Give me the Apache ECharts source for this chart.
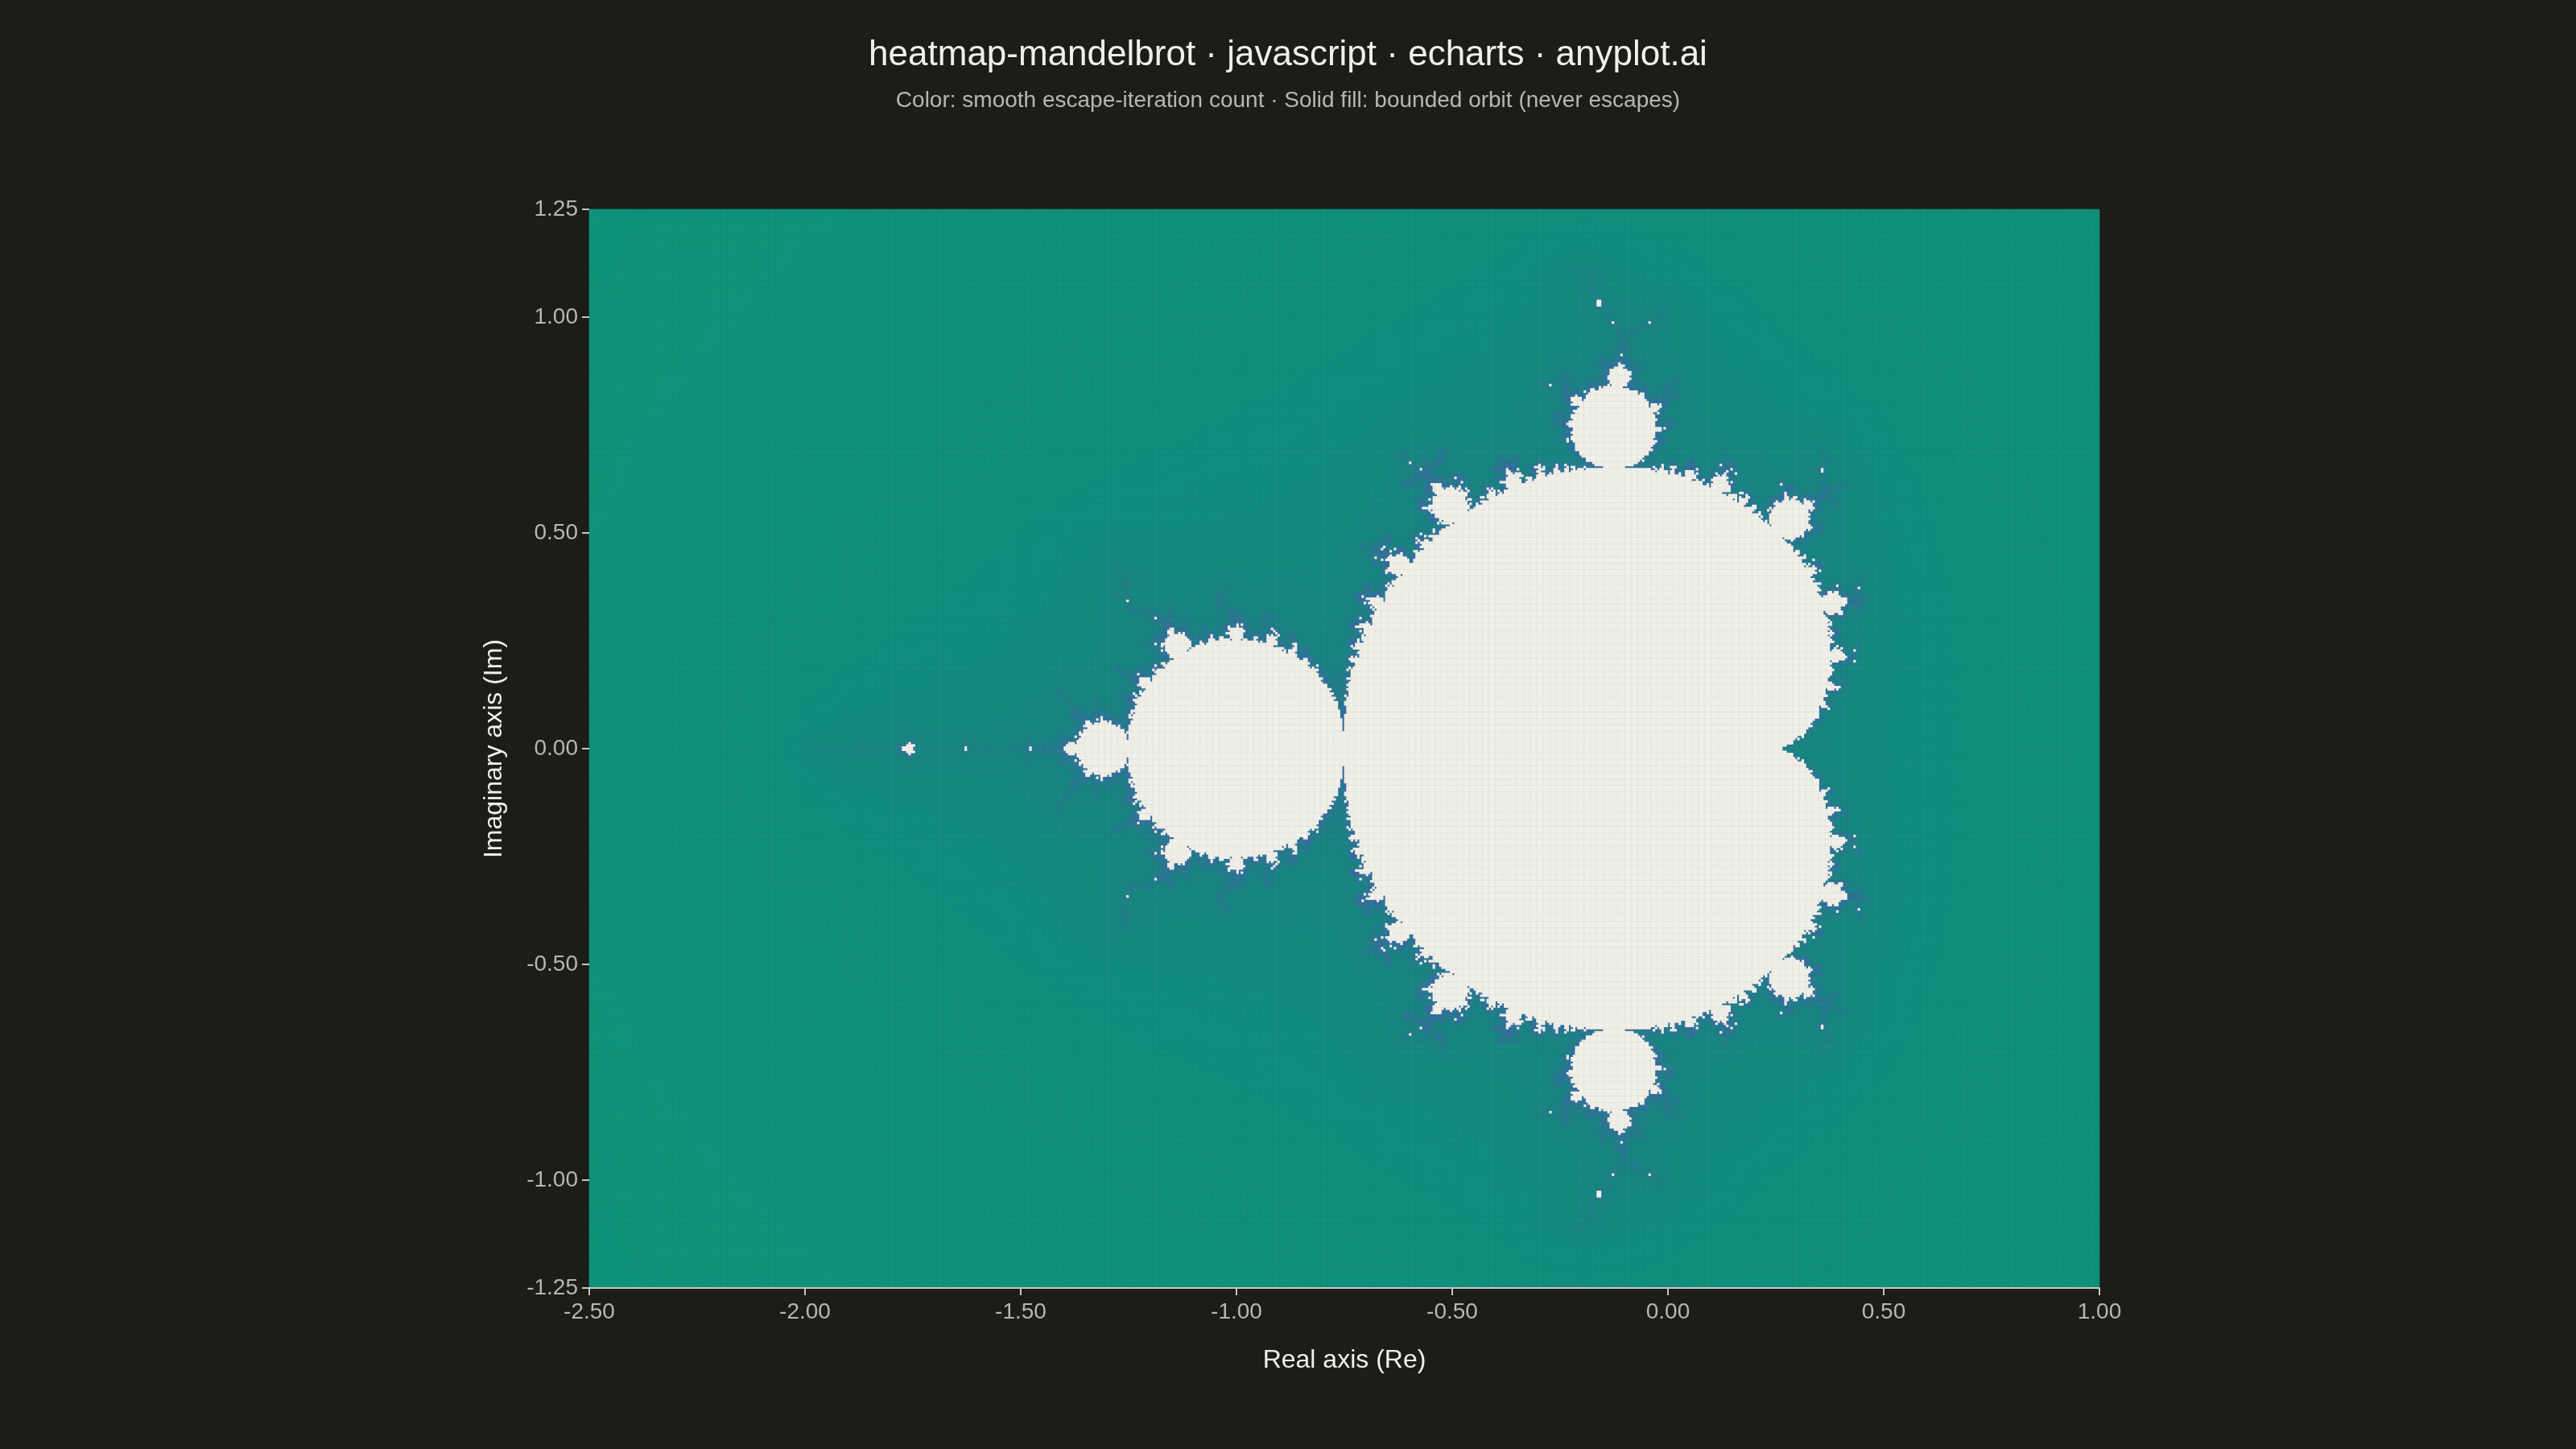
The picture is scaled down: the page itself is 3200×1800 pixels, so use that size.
<!DOCTYPE html>
<html>
<head>
<meta charset="utf-8">
<script src="https://cdn.jsdelivr.net/npm/echarts@6/dist/echarts.min.js"></script>
<style>
html,body{margin:0;padding:0;background:#1C1C19;}
#chart{width:3200px;height:1800px;}
</style>
</head>
<body>
<div id="chart"></div>
<script>
// ---- chart parameters (the Mandelbrot definition) ----
const reRange = [-2.5, 1.0];          // real axis extent
const imRange = [-1.25, 1.25];        // imaginary axis extent
const gridCols = 700;                 // samples along Re
const gridRows = 500;                 // samples along Im
const maxIter = 100;                  // iteration cap
const escapeRadius = 2;
const xTickValues = [-2.5, -2.0, -1.5, -1.0, -0.5, 0.0, 0.5, 1.0];
const yTickValues = [-1.25, -1.0, -0.5, 0.0, 0.5, 1.0, 1.25];
const colorStops = ['#089C77', '#0D967A', '#128D7E', '#1A8583', '#2E7596', '#3E67A8'];
const titleText = 'heatmap-mandelbrot · javascript · echarts · anyplot.ai';
const subtitleText = 'Color: smooth escape-iteration count · Solid fill: bounded orbit (never escapes)';

// ---- compute escape counts ----
const xCats = [];
const yCats = [];
for (let i = 0; i < gridCols; i++) xCats.push(i);
for (let j = 0; j < gridRows; j++) yCats.push(j);
const escaped = [];
const bounded = [];
const dx = (reRange[1] - reRange[0]) / gridCols;
const dy = (imRange[1] - imRange[0]) / gridRows;
for (let j = 0; j < gridRows; j++) {
  const ci = imRange[0] + (j + 0.5) * dy;
  for (let i = 0; i < gridCols; i++) {
    const cr = reRange[0] + (i + 0.5) * dx;
    let zr = 0, zi = 0, n = 0;
    while (n < maxIter) {
      const zr2 = zr * zr, zi2 = zi * zi;
      if (zr2 + zi2 > escapeRadius * escapeRadius * 64) break;
      zi = 2 * zr * zi + ci;
      zr = zr2 - zi2 + cr;
      n++;
    }
    if (n >= maxIter) {
      bounded.push([i, j, 1]);
    } else {
      const mod = Math.sqrt(zr * zr + zi * zi);
      let s = n + 1 - Math.log(Math.log(mod)) / Math.LN2;
      if (s < 0) s = 0;
      escaped.push([i, j, +Math.log1p(s).toFixed(4)]);
    }
  }
}

const fontFamily = '"Liberation Sans", Arial, sans-serif';
const chart = echarts.init(document.getElementById('chart'), null, {renderer: 'canvas'});
chart.setOption({
  backgroundColor: '#1C1C19',
  animation: false,
  title: [
    {text: titleText, left: 'center', top: 42,
     textStyle: {color: '#F0EFE8', fontSize: 44, fontWeight: 'normal', fontFamily: fontFamily}},
    {text: subtitleText, left: 'center', top: 106,
     textStyle: {color: '#B8B7AE', fontSize: 28, fontWeight: 'normal', fontFamily: fontFamily}}
  ],
  grid: {left: 732, right: 592, top: 260, bottom: 200, containLabel: false},
  xAxis: [
    {type: 'value', min: reRange[0], max: reRange[1], position: 'bottom',
     name: 'Real axis (Re)', nameLocation: 'middle', nameGap: 74,
     nameTextStyle: {color: '#F0EFE8', fontSize: 32, fontFamily: fontFamily},
     axisLine: {show: true, onZero: false, lineStyle: {color: '#C8C7BE', width: 2}},
     axisTick: {show: true, length: 9, customValues: xTickValues, lineStyle: {color: '#C8C7BE', width: 2}},
     axisLabel: {color: '#B8B7AE', fontSize: 28, margin: 16, fontFamily: fontFamily,
       customValues: xTickValues, formatter: v => v.toFixed(2)},
     splitLine: {show: false}, z: 10},
    {type: 'category', data: xCats, show: false, position: 'top'}
  ],
  yAxis: [
    {type: 'value', min: imRange[0], max: imRange[1], position: 'left',
     name: 'Imaginary axis (Im)', nameLocation: 'middle', nameGap: 102, nameRotate: 90,
     nameTextStyle: {color: '#F0EFE8', fontSize: 32, fontFamily: fontFamily},
     axisLine: {show: false, onZero: false},
     axisTick: {show: true, length: 9, customValues: yTickValues, lineStyle: {color: '#C8C7BE', width: 2}},
     axisLabel: {color: '#B8B7AE', fontSize: 28, margin: 14, fontFamily: fontFamily,
       customValues: yTickValues, formatter: v => v.toFixed(2)},
     splitLine: {show: false}, z: 10},
    {type: 'category', data: yCats, show: false, position: 'right'}
  ],
  visualMap: {
    type: 'continuous', show: false, seriesIndex: 0, dimension: 2,
    min: 0, max: Math.log1p(maxIter),
    inRange: {color: colorStops}
  },
  series: [
    {type: 'heatmap', name: 'escaped', xAxisIndex: 1, yAxisIndex: 1, data: escaped,
     progressive: 0, emphasis: {disabled: true}, silent: true},
    {type: 'heatmap', name: 'bounded', xAxisIndex: 1, yAxisIndex: 1, data: bounded,
     progressive: 0, emphasis: {disabled: true}, silent: true,
     itemStyle: {color: '#F0EFE8'}}
  ]
});
</script>
</body>
</html>
